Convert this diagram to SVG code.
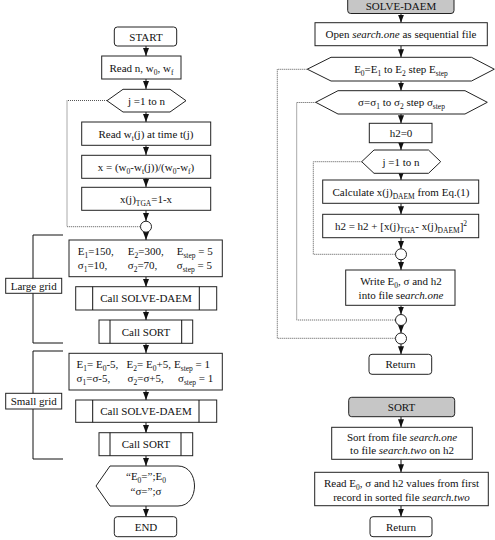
<svg xmlns="http://www.w3.org/2000/svg" width="495" height="540" viewBox="0 0 495 540">
<style>
text{font-family:"Liberation Serif","Times New Roman",serif;font-size:11px;fill:#111}
.m{text-anchor:middle}
.s{font-size:7.5px;baseline-shift:-2.5px}
.p{font-size:7.5px;baseline-shift:4px}
.i{font-style:italic}
.b{fill:#fff;stroke:#222;stroke-width:1}
.g{fill:#c6c6c6;stroke:#222;stroke-width:1}
.c{stroke:#111;stroke-width:1;fill:none}
.d{stroke:#555;stroke-width:1;fill:none;stroke-dasharray:1 1}
</style>
<defs>
<marker id="a" viewBox="0 0 8 8" refX="8" refY="4" markerWidth="8" markerHeight="8" markerUnits="userSpaceOnUse" orient="auto">
<path d="M0,1 L8,4 L0,7 Z" fill="#111"/>
</marker>
</defs>

<g id="connectors">
<g class="c" marker-end="url(#a)">
<path d="M146,46 V56"/>
<path d="M146,79 V89"/>
<path d="M146,112 V122"/>
<path d="M146,145 V155"/>
<path d="M146,178 V187"/>
<path d="M146,210 V221"/>
<path d="M146,232 V240"/>
<path d="M146,277 V287"/>
<path d="M146,310 V320"/>
<path d="M146,343 V353"/>
<path d="M146,390 V400"/>
<path d="M146,422 V433"/>
<path d="M146,456 V466"/>
<path d="M146,506 V517"/>
<path d="M401,13.5 V22.7"/>
<path d="M401,45.7 V57.3"/>
<path d="M401,81 V90.7"/>
<path d="M401,114 V123.3"/>
<path d="M401,142.7 V150"/>
<path d="M401,173.3 V180"/>
<path d="M401,203.3 V214.3"/>
<path d="M401,237.7 V249"/>
<path d="M401,259.7 V270"/>
<path d="M401,305.3 V314.5"/>
<path d="M401,325.5 V333"/>
<path d="M401,344 V354.3"/>
<path d="M401,416.7 V427.3"/>
<path d="M401,459.3 V472.3"/>
<path d="M401,505.7 V516.7"/>
</g>
<path class="d" d="M107,100.5 H67 V226.7 H140.5"/>
<path class="d" d="M307.3,69.3 H277.3 V338.3 H395.5"/>
<path class="d" d="M315.7,102.5 H296.7 V320 H395.5"/>
<path class="d" d="M361.7,161.7 H313.3 V254.3 H395.5"/>
<path class="c" d="M63,235 H33 V343 H63"/>
<path class="c" d="M63,351 H33 V459 H63"/>
</g>

<g id="start"><rect class="b" x="114.3" y="27" width="62.4" height="19" rx="3"/><text class="m" x="146" y="40.5">START</text></g>
<g id="read-n"><rect class="b" x="101.7" y="56" width="79.3" height="23"/><text class="m" x="141.5" y="71.5">Read n, w<tspan class="s">0</tspan>, w<tspan class="s">f</tspan></text></g>
<g id="loop-j"><path class="b" d="M107,100.7 L123,89.3 H170 L186,100.7 L170,112 H123 Z"/><text class="m" x="146.5" y="104.5">j =1 to n</text></g>
<g id="read-wt"><rect class="b" x="81.7" y="122" width="129" height="23.3"/><text class="m" x="146" y="137.5">Read w<tspan class="s">t</tspan>(j) at time t(j)</text></g>
<g id="calc-x"><rect class="b" x="81.7" y="155.3" width="129" height="23"/><text class="m" x="146" y="170.5">x = (w<tspan class="s">0</tspan>-w<tspan class="s">t</tspan>(j))/(w<tspan class="s">0</tspan>-w<tspan class="s">f</tspan>)</text></g>
<g id="x-tga"><rect class="b" x="81.7" y="187.3" width="129" height="23"/><text class="m" x="146" y="202.5">x(j)<tspan class="s">TGA</tspan>=1-x</text></g>
<g id="join-left"><circle class="b" cx="146" cy="226.7" r="5.5"/></g>

<g id="large-grid-label"><rect class="b" x="5.7" y="278.3" width="56" height="15"/><text class="m" x="33.7" y="289.5">Large grid</text></g>
<g id="large-grid"><rect class="b" x="69" y="240" width="153.3" height="36.7"/>
<text x="77.7" y="255">E<tspan class="s">1</tspan>=150,</text><text x="127.7" y="255">E<tspan class="s">2</tspan>=300,</text><text x="176.7" y="255">E<tspan class="s">step</tspan> = 5</text>
<text x="77.7" y="269">σ<tspan class="s">1</tspan>=10,</text><text x="127.7" y="269">σ<tspan class="s">2</tspan>=70,</text><text x="176.7" y="269">σ<tspan class="s">step</tspan> = 5</text></g>
<g id="call-solve-1"><rect class="b" x="75.7" y="286.7" width="141" height="23.3"/><path class="c" d="M92.7,286.7 V310 M199.3,286.7 V310"/><text class="m" x="146" y="302">Call SOLVE-DAEM</text></g>
<g id="call-sort-1"><rect class="b" x="99" y="320" width="93.7" height="23.3"/><path class="c" d="M110,320 V343.3 M181.7,320 V343.3"/><text class="m" x="146" y="335.5">Call SORT</text></g>

<g id="small-grid-label"><rect class="b" x="5.7" y="393.3" width="56" height="15.7"/><text class="m" x="33.7" y="405">Small grid</text></g>
<g id="small-grid"><rect class="b" x="69" y="353.3" width="153.3" height="36.7"/>
<text x="76.5" y="368.3">E<tspan class="s">1</tspan>= E<tspan class="s">0</tspan>-5,</text><text x="126.5" y="368.3">E<tspan class="s">2</tspan>= E<tspan class="s">0</tspan>+5,</text><text x="174" y="368.3">E<tspan class="s">step</tspan> = 1</text>
<text x="76.5" y="381.7">σ<tspan class="s">1</tspan>=σ-5,</text><text x="127.5" y="381.7">σ<tspan class="s">2</tspan>=σ+5,</text><text x="178" y="381.7">σ<tspan class="s">step</tspan> = 1</text></g>
<g id="call-solve-2"><rect class="b" x="75.7" y="400" width="141" height="22.3"/><path class="c" d="M92.7,400 V422.3 M199,400 V422.3"/><text class="m" x="146" y="415">Call SOLVE-DAEM</text></g>
<g id="call-sort-2"><rect class="b" x="99" y="432.7" width="93.7" height="23"/><path class="c" d="M110,432.7 V455.7 M181,432.7 V455.7"/><text class="m" x="146" y="448">Call SORT</text></g>
<g id="display"><path class="b" d="M96,486 L110,466 H178 C200,466 200,506 178,506 H110 Z"/>
<text class="m" x="146" y="480">“E<tspan class="s">0</tspan>=”;E<tspan class="s">0</tspan></text><text class="m" x="146" y="495">“σ=”;σ</text></g>
<g id="end"><rect class="b" x="114.3" y="516.7" width="62.4" height="20" rx="3"/><text class="m" x="146" y="530.5">END</text></g>

<g id="solve-daem"><rect class="g" x="347.7" y="-3" width="106.3" height="16.5" rx="3"/><text class="m" x="401" y="10">SOLVE-DAEM</text></g>
<g id="open-file"><rect class="b" x="315" y="22.7" width="172.3" height="23"/><text class="m" x="401" y="38"><tspan>Open </tspan><tspan class="i">search.one</tspan><tspan> as sequential file</tspan></text></g>
<g id="loop-e"><path class="b" d="M307.3,69.2 L331,57.3 H471.5 L494.3,69.2 L471.5,81 H331 Z"/><text class="m" x="401" y="73">E<tspan class="s">0</tspan>=E<tspan class="s">1</tspan> to E<tspan class="s">2</tspan> step E<tspan class="s">step</tspan></text></g>
<g id="loop-sigma"><path class="b" d="M315.7,102.3 L338,90.7 H465 L487.3,102.3 L465,114 H338 Z"/><text class="m" x="401.5" y="106">σ=σ<tspan class="s">1</tspan> to σ<tspan class="s">2</tspan> step σ<tspan class="s">step</tspan></text></g>
<g id="h2-zero"><rect class="b" x="369.3" y="123.3" width="62.7" height="19.4"/><text class="m" x="401" y="137">h2=0</text></g>
<g id="loop-j2"><path class="b" d="M361.7,161.7 L374,150 H428.5 L440.7,161.7 L428.5,173.3 H374 Z"/><text class="m" x="401" y="165.5">j =1 to n</text></g>
<g id="calc-daem"><rect class="b" x="322.7" y="180" width="156" height="23.3"/><text class="m" x="401" y="195.5">Calculate x(j)<tspan class="s">DAEM</tspan> from Eq.(1)</text></g>
<g id="calc-h2"><rect class="b" x="322.7" y="214.3" width="156" height="23.4"/><text class="m" x="401" y="230">h2 = h2 + [x(j)<tspan class="s">TGA</tspan>- x(j)<tspan class="s">DAEM</tspan>]<tspan class="p">2</tspan></text></g>
<g id="join-j"><circle class="b" cx="401" cy="254.3" r="5.5"/></g>
<g id="write"><rect class="b" x="345.7" y="270" width="109.3" height="35.3"/><text class="m" x="401" y="285">Write E<tspan class="s">0</tspan>, σ and h2</text><text class="m" x="401" y="299">into file se<tspan class="i">arch.one</tspan></text></g>
<g id="join-sigma"><circle class="b" cx="401" cy="320" r="5.5"/></g>
<g id="join-e"><circle class="b" cx="401" cy="338.5" r="5.5"/></g>
<g id="return-1"><rect class="b" x="369" y="354.3" width="62.7" height="20" rx="3"/><text class="m" x="400.5" y="368">Return</text></g>

<g id="sort"><rect class="g" x="348.7" y="397.3" width="106" height="19.4" rx="3"/><text class="m" x="401.5" y="411">SORT</text></g>
<g id="sort-file"><rect class="b" x="331.7" y="427.3" width="140.6" height="32"/><text class="m" x="402" y="441">Sort from file <tspan class="i">search.one</tspan></text><text class="m" x="402" y="454.3">to file <tspan class="i">search.two</tspan> on h2</text></g>
<g id="read-first"><rect class="b" x="314.7" y="472.3" width="173.6" height="33.4"/><text class="m" x="401.5" y="487.3">Read E<tspan class="s">0</tspan>, σ and h2 values from first</text><text class="m" x="401.5" y="500.5">record in sorted file <tspan class="i">search.two</tspan></text></g>
<g id="return-2"><rect class="b" x="370" y="516.7" width="62" height="20" rx="3"/><text class="m" x="401" y="530.5">Return</text></g>
</svg>
